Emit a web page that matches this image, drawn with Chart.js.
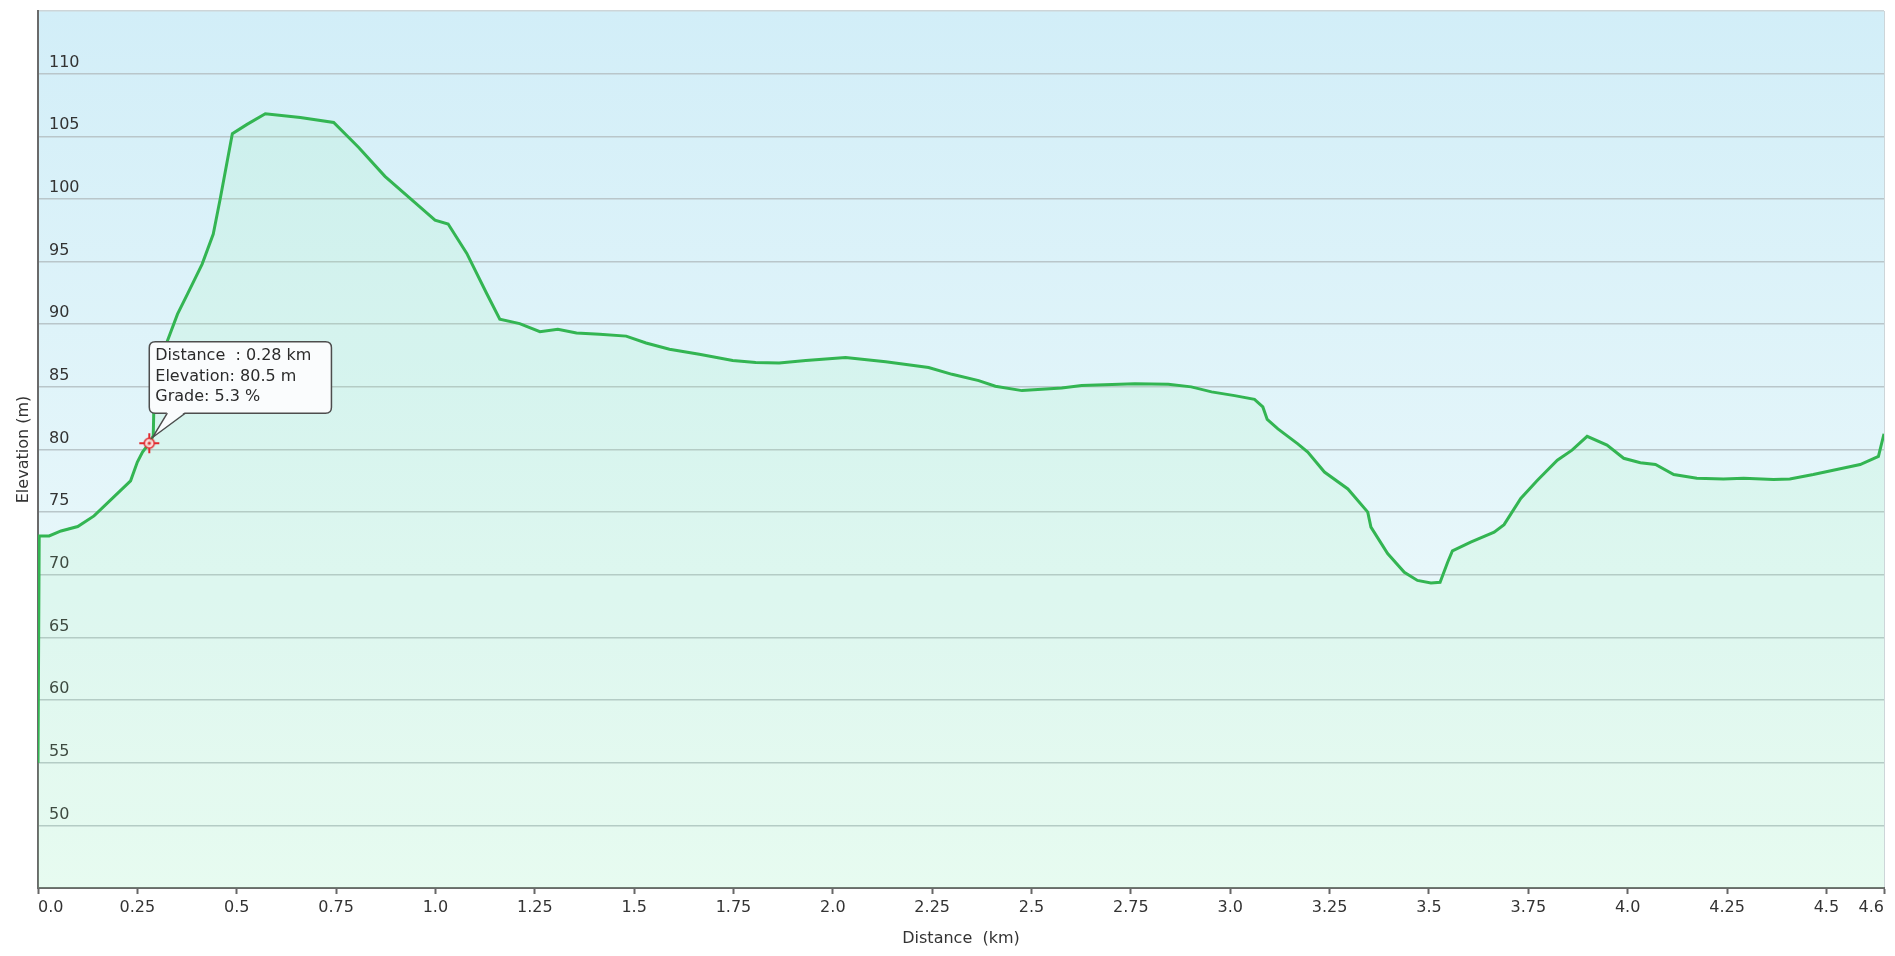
<!DOCTYPE html>
<html>
<head>
  <title>Elevation profile</title>
  <script src="https://cdn.jsdelivr.net/npm/chart.js"></script>
  <style>
    html, body { margin: 0; padding: 0; background: #fff; }
    #wrap { width: 1895px; height: 956px; position: relative; }
  </style>
</head>
<body>
  <div id="wrap"><canvas id="profileChart"></canvas></div>

  <script>
    // Track profile: distance (km) / elevation (m)
    const distKm = [
      0.000, 0.003, 0.028, 0.058, 0.100, 0.141, 0.233, 0.250, 0.263, 0.280,
      0.290, 0.293, 0.326, 0.351, 0.376, 0.413, 0.441, 0.459, 0.489, 0.526,
      0.572, 0.660, 0.744, 0.807, 0.873, 0.945, 0.999, 1.032, 1.079, 1.129,
      1.162, 1.212, 1.263, 1.308, 1.355, 1.413, 1.480, 1.530, 1.589, 1.664,
      1.748, 1.806, 1.865, 1.932, 2.032, 2.133, 2.241, 2.300, 2.367, 2.409,
      2.476, 2.576, 2.626, 2.760, 2.844, 2.902, 2.953, 3.011, 3.061, 3.082,
      3.093, 3.120, 3.170, 3.195, 3.237, 3.296, 3.346, 3.354, 3.396, 3.438,
      3.471, 3.505, 3.528, 3.547, 3.559, 3.605, 3.664, 3.689, 3.731, 3.773,
      3.823, 3.860, 3.898, 3.948, 3.990, 4.032, 4.070, 4.116, 4.174, 4.241,
      4.292, 4.367, 4.408, 4.467, 4.526, 4.585, 4.631, 4.645
    ];
    const elevM = [
      55.0, 73.1, 73.1, 73.5, 73.85, 74.7, 77.5, 79.0, 79.8, 80.5,
      81.1, 85.5, 88.7, 90.8, 92.4, 94.8, 97.2, 100.1, 105.2, 105.95,
      106.8, 106.5, 106.1, 104.1, 101.8, 99.8, 98.3, 98.0, 95.65, 92.45,
      90.4, 90.05, 89.4, 89.6, 89.3, 89.2, 89.05, 88.5, 88.0, 87.6,
      87.1, 86.95, 86.9, 87.1, 87.35, 87.0, 86.55, 86.0, 85.5, 85.05,
      84.7, 84.9, 85.1, 85.25, 85.2, 85.0, 84.6, 84.3, 84.0, 83.4,
      82.4, 81.65, 80.45, 79.8, 78.2, 76.85, 75.0, 73.8, 71.7, 70.2,
      69.55, 69.35, 69.4, 71.0, 71.9, 72.6, 73.4, 74.0, 76.1, 77.55,
      79.15, 79.95, 81.05, 80.35, 79.3, 78.95, 78.8, 78.0, 77.7, 77.65,
      77.7, 77.6, 77.65, 78.0, 78.4, 78.8, 79.45, 81.25
    ];

    // Point shown with the info box
    const markerDist = [0.28];
    const markerElev = [80.5];
    const markerGrade = [5.3];

    // Axes
    const xMax = 4.645;
    const xTickValues = [0, 0.25, 0.5, 0.75, 1, 1.25, 1.5, 1.75, 2, 2.25, 2.5, 2.75, 3, 3.25, 3.5, 3.75, 4, 4.25, 4.5, 4.645];
    const xTickLabels = ['0.0', '0.25', '0.5', '0.75', '1.0', '1.25', '1.5', '1.75', '2.0', '2.25', '2.5', '2.75', '3.0', '3.25', '3.5', '3.75', '4.0', '4.25', '4.5', '4.6'];
    const yMin = 45, yMax = 115, yStep = 5;
    const yHiddenLabels = [45, 115];

    const FONT = 'DejaVu Sans';
    const TEXT = '#333';
    const TIP_BG = '#fafcfd';
    const TIP_BORDER = '#4d4d4d';

    Chart.defaults.font.family = FONT;
    Chart.defaults.font.size = 16;
    Chart.defaults.color = TEXT;

    // red crosshair used as point style for the marker
    const crosshair = document.createElement('canvas');
    crosshair.width = 22;
    crosshair.height = 22;
    (function () {
      const c = crosshair.getContext('2d');
      c.strokeStyle = '#e0282d';
      c.lineWidth = 2;
      [[11, 1, 11, 7], [11, 15, 11, 21], [1, 11, 7, 11], [15, 11, 21, 11]].forEach(([a, b, d, e]) => {
        c.beginPath(); c.moveTo(a, b); c.lineTo(d, e); c.stroke();
      });
      c.beginPath();
      c.arc(11, 11, 5, 0, Math.PI * 2);
      c.fillStyle = 'rgba(255,215,215,0.9)';
      c.fill();
      c.lineWidth = 1.5;
      c.stroke();
      c.beginPath();
      c.arc(11, 11, 1.6, 0, Math.PI * 2);
      c.fillStyle = '#e0282d';
      c.fill();
    })();

    // info box sits up-right of the point, tail drawn separately
    Chart.Tooltip.positioners.callout = function (elements) {
      if (!elements.length) return false;
      const el = elements[0].element;
      return { x: el.x + 6, y: el.y - 30, xAlign: 'left', yAlign: 'bottom' };
    };

    // gradient behind the plot
    const plotBackground = {
      id: 'plotBackground',
      beforeDraw(chart) {
        const { ctx, chartArea: a } = chart;
        const g = ctx.createLinearGradient(0, a.top, 0, a.bottom);
        g.addColorStop(0, '#d2eef8');
        g.addColorStop(1, '#f3fcfb');
        ctx.save();
        ctx.fillStyle = g;
        ctx.fillRect(a.left, a.top, a.right - a.left, a.bottom - a.top);
        ctx.restore();
      }
    };

    // slanted tail from the info box down to the point
    const calloutTail = {
      id: 'calloutTail',
      afterTooltipDraw(chart, args) {
        const tt = args.tooltip;
        if (!tt || !tt.opacity || !tt._active.length) return;
        const el = tt._active[0].element;
        const ctx = chart.ctx;
        const by = tt.y + tt.height;
        const x1 = tt.x + 18, x2 = tt.x + 36;
        const tipX = el.x + 3.5, tipY = el.y - 6;
        ctx.save();
        ctx.beginPath();
        ctx.moveTo(x1, by - 1.5);
        ctx.lineTo(tipX, tipY);
        ctx.lineTo(x2, by - 1.5);
        ctx.closePath();
        ctx.fillStyle = TIP_BG;
        ctx.fill();
        ctx.beginPath();
        ctx.moveTo(x1, by);
        ctx.lineTo(tipX, tipY);
        ctx.lineTo(x2, by);
        ctx.strokeStyle = TIP_BORDER;
        ctx.lineWidth = 1.5;
        ctx.stroke();
        ctx.restore();
      }
    };

    const ctx = document.getElementById('profileChart').getContext('2d');
    const chart = new Chart(ctx, {
      type: 'line',
      data: {
        datasets: [
          {
            label: 'Elevation',
            data: distKm.map((d, i) => ({ x: d, y: elevM[i] })),
            borderColor: '#33b552',
            borderWidth: 3,
            backgroundColor: 'rgba(150, 245, 165, 0.12)',
            fill: 'start',
            pointRadius: 0,
            pointHoverRadius: 0,
            tension: 0,
            order: 1
          },
          {
            label: 'Marker',
            data: markerDist.map((d, i) => ({ x: d, y: markerElev[i] })),
            pointStyle: crosshair,
            pointRadius: 10,
            pointHoverRadius: 10,
            showLine: false,
            order: 0
          }
        ]
      },
      options: {
        responsive: true,
        maintainAspectRatio: false,
        animation: false,
        events: [],
        layout: { padding: { top: 10, right: 7, left: 0, bottom: 0 } },
        plugins: {
          legend: { display: false },
          tooltip: {
            position: 'callout',
            displayColors: false,
            backgroundColor: TIP_BG,
            borderColor: TIP_BORDER,
            borderWidth: 1.5,
            cornerRadius: 6,
            caretSize: 0,
            caretPadding: 0,
            padding: { left: 6, right: 20, top: 5, bottom: 7 },
            bodyFont: { family: FONT, size: 16 },
            bodyColor: '#2b2b2b',
            bodySpacing: 1,
            filter: item => item.datasetIndex === 1,
            callbacks: {
              title: () => '',
              label: item => [
                'Distance  : ' + markerDist[item.dataIndex].toFixed(2) + ' km',
                'Elevation: ' + markerElev[item.dataIndex].toFixed(1) + ' m',
                'Grade: ' + markerGrade[item.dataIndex].toFixed(1) + ' %'
              ]
            }
          }
        },
        scales: {
          x: {
            type: 'linear',
            min: 0,
            max: xMax,
            afterBuildTicks: scale => { scale.ticks = xTickValues.map(v => ({ value: v })); },
            afterFit: scale => {
              scale.height = 68;
              scale.paddingLeft = 0;
              scale.paddingRight = 0;
            },
            ticks: {
              align: 'inner',
              padding: 4,
              autoSkip: false,
              maxRotation: 0,
              color: TEXT,
              callback: (v, i) => xTickLabels[i]
            },
            grid: {
              color: c => c.index === xTickValues.length - 1 ? '#cdd5d8' : 'transparent',
              tickColor: '#666',
              tickLength: 6,
              tickWidth: 2
            },
            border: { color: '#6a6a6a', width: 2 },
            title: {
              display: true,
              text: 'Distance  (km)',
              color: TEXT,
              padding: { top: 0, bottom: 8 }
            }
          },
          y: {
            min: yMin,
            max: yMax,
            afterFit: scale => {
              scale.width = 38;
              scale.paddingTop = 0;
              scale.paddingBottom = 0;
            },
            ticks: {
              stepSize: yStep,
              mirror: true,
              padding: 11,
              labelOffset: -11,
              color: TEXT,
              callback: v => yHiddenLabels.includes(v) ? '' : v
            },
            grid: {
              color: c => c.tick && c.tick.value === yMax ? '#cdd5d8' : '#b9c6ca',
              lineWidth: 1.5,
              drawTicks: false
            },
            border: { color: '#6a6a6a', width: 2 },
            title: {
              display: true,
              text: 'Elevation (m)',
              color: TEXT,
              padding: { top: 14, bottom: 0 }
            }
          }
        }
      },
      plugins: [plotBackground, calloutTail]
    });

    // show the info box on the marked point
    chart.tooltip.setActiveElements([{ datasetIndex: 1, index: 0 }], { x: 0, y: 0 });
    chart.update();
  </script>
</body>
</html>
